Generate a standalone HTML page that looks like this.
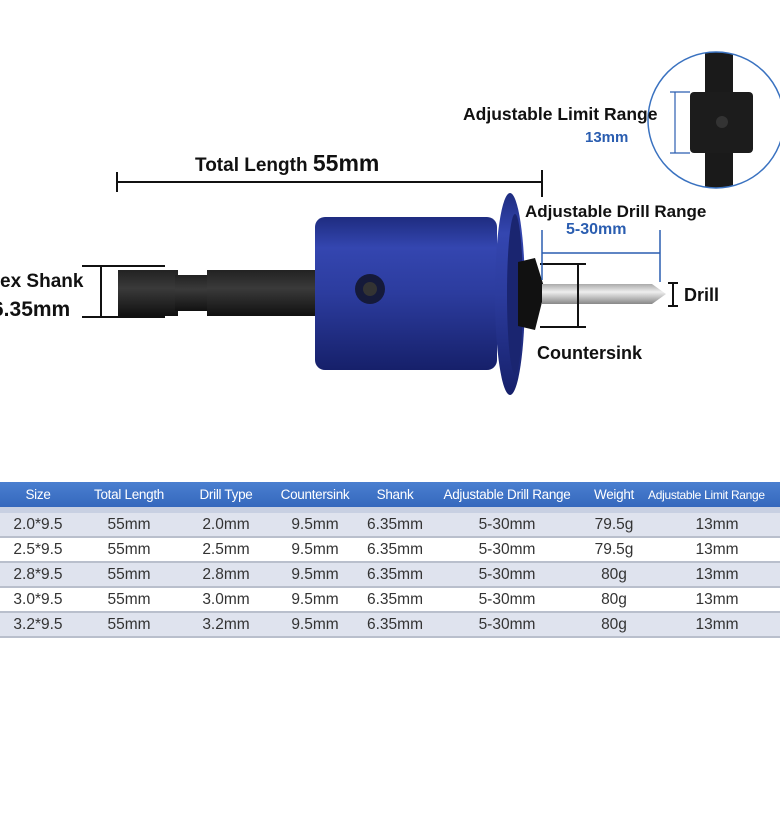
<!DOCTYPE html>
<html><head><meta charset="utf-8"><style>
html,body{margin:0;padding:0;background:#fff;}
body{width:780px;height:825px;position:relative;overflow:hidden;font-family:"Liberation Sans",sans-serif;}
.t{position:absolute;white-space:nowrap;font-weight:bold;color:#111;}
table{position:absolute;left:0;top:482px;width:790px;border-collapse:collapse;font-family:"Liberation Sans",sans-serif;table-layout:fixed;}
th{background:linear-gradient(#4a7fd0,#3568bd);color:#fff;font-weight:normal;font-size:13.5px;height:25px;padding:0;border-bottom:6px solid #c8d0e2;white-space:nowrap;overflow:hidden;letter-spacing:-0.3px;}
td{font-size:15.5px;color:#333;text-align:center;height:23px;padding:0;border-bottom:2px solid #b9bfcc;}
tr.a td{background:#dfe3ee;}
tr.b td{background:#fff;}
</style></head><body>
<svg width="780" height="470" style="position:absolute;left:0;top:0">
  <defs>
    <linearGradient id="bl" x1="0" y1="0" x2="0" y2="1">
      <stop offset="0" stop-color="#1e2c80"/><stop offset="0.2" stop-color="#3446b0"/>
      <stop offset="0.5" stop-color="#2c3c9e"/><stop offset="1" stop-color="#16206a"/>
    </linearGradient>
    <linearGradient id="dk" x1="0" y1="0" x2="0" y2="1">
      <stop offset="0" stop-color="#222"/><stop offset="0.4" stop-color="#3a3a3a"/><stop offset="1" stop-color="#111"/>
    </linearGradient>
    <linearGradient id="sv" x1="0" y1="0" x2="0" y2="1">
      <stop offset="0" stop-color="#aaa"/><stop offset="0.4" stop-color="#eee"/><stop offset="1" stop-color="#888"/>
    </linearGradient>
  </defs>
  <line x1="117" y1="182" x2="542" y2="182" stroke="#111" stroke-width="2"/>
  <line x1="117" y1="172" x2="117" y2="192" stroke="#111" stroke-width="2"/>
  <line x1="542" y1="170" x2="542" y2="197" stroke="#111" stroke-width="2"/>
  <!-- hex shank -->
  <rect x="118" y="270" width="60" height="46" fill="url(#dk)"/>
  <rect x="175" y="275" width="35" height="36" fill="url(#dk)"/>
  <rect x="207" y="270" width="110" height="46" fill="url(#dk)"/>
  <line x1="82" y1="266" x2="165" y2="266" stroke="#111" stroke-width="2"/>
  <line x1="82" y1="317" x2="165" y2="317" stroke="#111" stroke-width="2"/>
  <line x1="101" y1="266" x2="101" y2="317" stroke="#111" stroke-width="2"/>
  <!-- body -->
  <rect x="315" y="217" width="182" height="153" rx="10" fill="url(#bl)"/>
  <circle cx="370" cy="289" r="15" fill="#151a3a"/>
  <circle cx="370" cy="289" r="7" fill="#333"/>
  <ellipse cx="510" cy="294" rx="15" ry="101" fill="url(#bl)"/>
  <ellipse cx="515" cy="294" rx="8" ry="80" fill="#1a2570"/>
  <path d="M518 262 L535 258 L545 290 L535 330 L518 326 Z" fill="#111"/>
  <path d="M542 284 L652 284 L666 294 L652 304 L542 304 Z" fill="url(#sv)"/>
  <line x1="540" y1="264" x2="586" y2="264" stroke="#111" stroke-width="2"/>
  <line x1="540" y1="327" x2="586" y2="327" stroke="#111" stroke-width="2"/>
  <line x1="578" y1="264" x2="578" y2="327" stroke="#111" stroke-width="2"/>
  <line x1="668" y1="283" x2="678" y2="283" stroke="#111" stroke-width="2"/>
  <line x1="668" y1="306" x2="678" y2="306" stroke="#111" stroke-width="2"/>
  <line x1="673" y1="283" x2="673" y2="306" stroke="#111" stroke-width="2"/>
  <g stroke="#2a5db0" stroke-width="1.5">
    <line x1="542" y1="230" x2="542" y2="280"/>
    <line x1="660" y1="230" x2="660" y2="282"/>
    <line x1="542" y1="253" x2="660" y2="253"/>
  </g>
  <clipPath id="cc"><circle cx="716" cy="120" r="68"/></clipPath>
  <circle cx="716" cy="120" r="68" fill="#fff"/>
  <g clip-path="url(#cc)">
    <rect x="705" y="40" width="28" height="160" fill="#1a1a1a"/>
    <rect x="690" y="92" width="63" height="61" rx="4" fill="#1c1c1c"/>
    <circle cx="722" cy="122" r="6" fill="#333"/>
  </g>
  <circle cx="716" cy="120" r="68" fill="none" stroke="#3a72c0" stroke-width="1.5"/>
  <g stroke="#2a5db0" stroke-width="1.2">
    <line x1="670" y1="92" x2="690" y2="92"/>
    <line x1="670" y1="153" x2="690" y2="153"/>
    <line x1="675" y1="92" x2="675" y2="153"/>
  </g>
</svg>
<div class="t" style="left:195px;top:150px;font-size:19px">Total Length <span style="font-size:23px">55mm</span></div>
<div class="t" style="left:0;top:271px;font-size:19px">ex Shank</div>
<div class="t" style="left:-8px;top:298px;font-size:21px">6.35mm</div>
<div class="t" style="left:463px;top:104px;font-size:17.5px">Adjustable Limit Range</div>
<div class="t" style="left:585px;top:129px;font-size:15px;color:#2a5db0">13mm</div>
<div class="t" style="left:525px;top:202px;font-size:17px">Adjustable Drill Range</div>
<div class="t" style="left:566px;top:221px;font-size:16px;color:#2a5db0">5-30mm</div>
<div class="t" style="left:684px;top:285px;font-size:18px">Drill</div>
<div class="t" style="left:537px;top:343px;font-size:18px">Countersink</div>
<table>
<colgroup><col style="width:76px"><col style="width:106px"><col style="width:88px"><col style="width:90px"><col style="width:70px"><col style="width:154px"><col style="width:60px"><col></colgroup>
<tr><th>Size</th><th>Total Length</th><th>Drill Type</th><th>Countersink</th><th>Shank</th><th>Adjustable Drill Range</th><th>Weight</th><th style="font-size:12px;text-align:left;padding-left:4px">Adjustable Limit Range</th></tr>
<tr class="a"><td>2.0*9.5</td><td>55mm</td><td>2.0mm</td><td>9.5mm</td><td>6.35mm</td><td>5-30mm</td><td>79.5g</td><td>13mm</td></tr>
<tr class="b"><td>2.5*9.5</td><td>55mm</td><td>2.5mm</td><td>9.5mm</td><td>6.35mm</td><td>5-30mm</td><td>79.5g</td><td>13mm</td></tr>
<tr class="a"><td>2.8*9.5</td><td>55mm</td><td>2.8mm</td><td>9.5mm</td><td>6.35mm</td><td>5-30mm</td><td>80g</td><td>13mm</td></tr>
<tr class="b"><td>3.0*9.5</td><td>55mm</td><td>3.0mm</td><td>9.5mm</td><td>6.35mm</td><td>5-30mm</td><td>80g</td><td>13mm</td></tr>
<tr class="a"><td>3.2*9.5</td><td>55mm</td><td>3.2mm</td><td>9.5mm</td><td>6.35mm</td><td>5-30mm</td><td>80g</td><td>13mm</td></tr>
</table>
</body></html>
